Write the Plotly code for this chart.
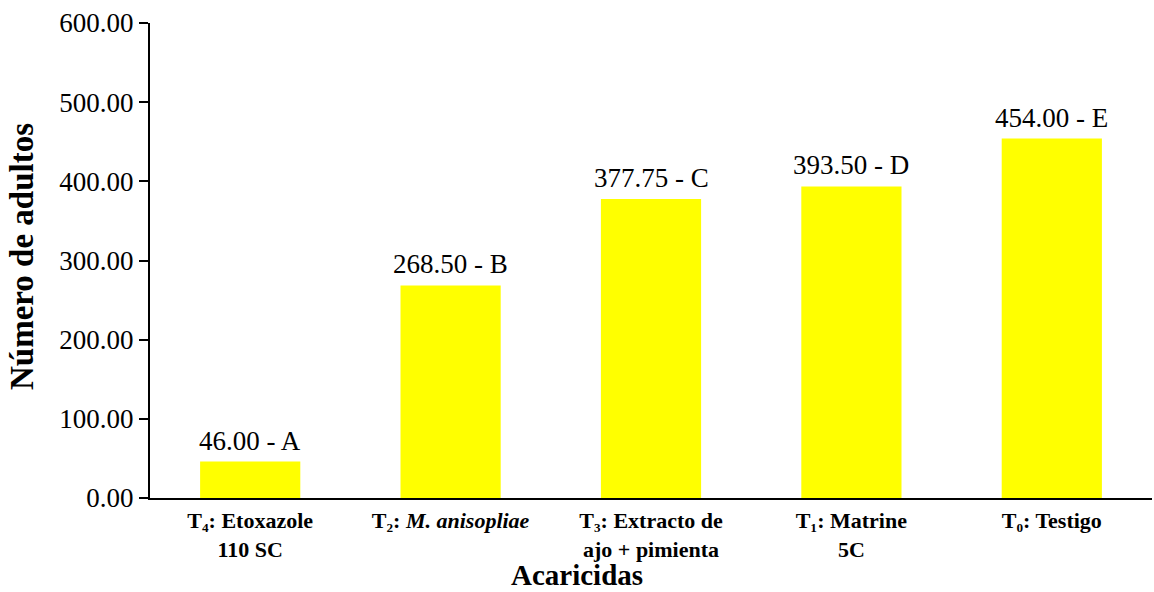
import plotly.graph_objects as go

categories = [
    "T₄: Etoxazole<br>110 SC",
    "T₂: <i>M. anisopliae</i>",
    "T₃: Extracto de<br>ajo + pimienta",
    "T₁: Matrine<br>5C",
    "T₀: Testigo",
]
values = [46.00, 268.50, 377.75, 393.50, 454.00]
letters = ["A", "B", "C", "D", "E"]
y_ticks = [0, 100, 200, 300, 400, 500, 600]

font_family = "Liberation Serif"

W, H = 1154, 592
ML, MR, MT, MB = 150, 2, 23, 94
plot_w = W - ML - MR
plot_h = H - MT - MB


def px_x(x):
    return (x - ML) / plot_w


def px_y(y):
    return (H - MB - y) / plot_h


fig = go.Figure()
fig.add_trace(go.Bar(
    x=categories,
    y=values,
    marker=dict(color="#FFFF00", line=dict(width=0)),
    width=0.5,
    hoverinfo="skip",
))

for c, v, l in zip(categories, values, letters):
    fig.add_annotation(
        x=c, y=v, text=f"{v:.2f} - {l}", showarrow=False,
        yanchor="bottom", yshift=4,
        font=dict(family=font_family, size=27, color="black"),
    )

fig.add_annotation(
    x=px_x(577), y=px_y(592), xref="paper", yref="paper",
    text="<b>Acaricidas</b>", showarrow=False,
    xanchor="center", yanchor="bottom", borderpad=0,
    font=dict(family=font_family, size=29, color="black"),
)

fig.add_annotation(
    x=px_x(22), y=px_y(257), xref="paper", yref="paper",
    text="<b>Número de adultos</b>", showarrow=False, textangle=-90,
    xanchor="center", yanchor="middle",
    font=dict(family=font_family, size=33, color="black"),
)

fig.update_layout(
    width=W, height=H,
    margin=dict(l=ML, r=MR, t=MT, b=MB),
    plot_bgcolor="white", paper_bgcolor="white",
    showlegend=False,
    font=dict(family=font_family, color="black"),
)
fig.update_xaxes(
    showline=True, linecolor="black", linewidth=2,
    ticks="", showgrid=False, automargin=False,
    ticklabelstandoff=2,
    tickfont=dict(family=font_family, size=22, color="black"),
    tickprefix="<b>", ticksuffix="</b>",
)
fig.update_yaxes(
    range=[0, 600], tickvals=y_ticks,
    ticktext=[f"{t:.2f}" for t in y_ticks],
    showline=True, linecolor="black", linewidth=2,
    ticks="outside", ticklen=9, tickwidth=2, tickcolor="black",
    showgrid=False, zeroline=False, automargin=False,
    tickfont=dict(family=font_family, size=27, color="black"),
)

fig.write_html(
    "out.html",
    config={"displayModeBar": False},
    post_script="document.body.style.margin='0px';",
)
